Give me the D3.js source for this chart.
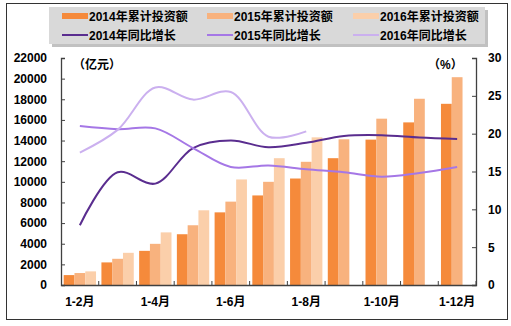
<!DOCTYPE html>
<html><head><meta charset="utf-8">
<script src="https://cdn.jsdelivr.net/npm/d3@7"></script>
<style>
body{margin:0;background:#fff;}
text{font-family:Arial,"Liberation Sans","Noto Sans CJK SC",sans-serif;font-weight:bold;fill:#000;}
</style></head><body>
<svg id="c" width="511" height="326"></svg>
<script>
const categories = ["1-2月","1-3月","1-4月","1-5月","1-6月","1-7月","1-8月","1-9月","1-10月","1-11月","1-12月"];
const tickLabels = ["1-2月","1-4月","1-6月","1-8月","1-10月","1-12月"];
const inv2014 = [960, 2190, 3310, 4920, 7040, 8680, 10320, 12290, 14090, 15760, 17560];
const inv2015 = [1160, 2540, 3990, 5790, 8080, 10000, 11940, 14120, 16120, 18050, 20140];
const inv2016 = [1320, 3120, 5100, 7240, 10230, 12290, 14310];
const g2014 = [7.9, 14.9, 13.4, 18.1, 19.1, 18.2, 18.8, 19.7, 19.8, 19.5, 19.3];
const g2015 = [21.0, 20.6, 20.7, 18.1, 15.6, 15.8, 15.3, 14.9, 14.3, 14.8, 15.6];
const g2016 = [17.5, 20.5, 26.1, 24.5, 25.5, 19.6, 20.3];
const leftTicks = d3.range(0, 22001, 2000);
const rightTicks = d3.range(0, 31, 5);
const barSeries = [
  {name:"2014年累计投资额", values:inv2014, color:"#f58a3b"},
  {name:"2015年累计投资额", values:inv2015, color:"#f8b27e"},
  {name:"2016年累计投资额", values:inv2016, color:"#fbcfaa"}
];
const lineSeries = [
  {name:"2014年同比增长", values:g2014, color:"#5a2d8f"},
  {name:"2015年同比增长", values:g2015, color:"#a577e6"},
  {name:"2016年同比增长", values:g2016, color:"#cbb0ef"}
];

const svg = d3.select("#c");
svg.append("rect").attr("x",6.5).attr("y",3.5).attr("width",501).attr("height",316)
  .attr("fill","none").attr("stroke","#333").attr("stroke-width",1);

const L=61, R=476, T=58, B=285;
const x = d3.scaleBand().domain(categories).range([L,R]).padding(0);
const xs = d3.scaleBand().domain([0,1,2]).range([0, x.bandwidth()]).paddingInner(0).paddingOuter(0.25);
const yL = d3.scaleLinear().domain([0,22000]).range([B,T]);
const yR = d3.scaleLinear().domain([0,30]).range([B,T]);

barSeries.forEach((s,i)=>{
  svg.append("g").selectAll("rect").data(s.values).join("rect")
    .attr("x",(d,j)=>x(categories[j])+xs(i))
    .attr("width",xs.bandwidth())
    .attr("y",d=>yL(d)).attr("height",d=>B-yL(d))
    .attr("fill",s.color);
});

lineSeries.forEach(s=>{
  const line = d3.line().x((d,j)=>x(categories[j])+x.bandwidth()/2).y(d=>yR(d)).curve(d3.curveCatmullRom.alpha(0.5));
  svg.append("path").datum(s.values).attr("d",line).attr("fill","none")
    .attr("stroke",s.color).attr("stroke-width",2);
});

const axColor="#404040";
const gl = svg.append("g").attr("transform",`translate(${L},0)`)
  .call(d3.axisLeft(yL).tickValues(leftTicks).tickSize(-4).tickPadding(14).tickFormat(d3.format("d")));
const gr = svg.append("g").attr("transform",`translate(${R},0)`)
  .call(d3.axisRight(yR).tickValues(rightTicks).tickSize(-4).tickPadding(14));
const gb = svg.append("g").attr("transform",`translate(0,${B})`)
  .call(d3.axisBottom(x).tickValues([]).tickSize(0));
[gl,gr,gb].forEach(g=>{
  g.select(".domain").attr("stroke",axColor).attr("stroke-width",1.3);
  g.selectAll("line").attr("stroke",axColor);
  g.selectAll("text").attr("font-size",12).attr("fill","#000")
    .style("font-family","Arial,'Liberation Sans',sans-serif").style("font-weight","bold");
});
gr.selectAll(".tick text").attr("x",12);
const bounds = categories.slice(1).map(c=>x(c)).concat([R]);
svg.append("g").selectAll("line").data(bounds).join("line")
  .attr("x1",d=>d).attr("x2",d=>d).attr("y1",B).attr("y2",B-4)
  .attr("stroke",axColor);
svg.append("g").selectAll("text").data(tickLabels).join("text")
  .attr("x",d=>x(d)+x.bandwidth()/2).attr("y",B+21)
  .attr("text-anchor","middle").attr("font-size",12).text(d=>d);

svg.append("text").attr("x",73).attr("y",69).attr("font-size",12).text("（亿元）");
svg.append("text").attr("x",428).attr("y",69).attr("font-size",12).text("（%）");

const lg = svg.append("g");
lg.append("rect").attr("x",52).attr("y",10).attr("width",436).attr("height",37).attr("fill","#a6a6a6").attr("opacity",0.7);
lg.append("rect").attr("x",49).attr("y",7).attr("width",436).attr("height",37).attr("fill","#d9d9d9");
const colX=[62,207,353];
barSeries.forEach((s,i)=>{
  lg.append("rect").attr("x",colX[i]).attr("y",13).attr("width",26).attr("height",6).attr("fill",s.color);
  lg.append("text").attr("x",colX[i]+27).attr("y",21).attr("font-size",12).text(s.name);
});
lineSeries.forEach((s,i)=>{
  lg.append("line").attr("x1",colX[i]).attr("x2",colX[i]+26).attr("y1",35).attr("y2",35)
    .attr("stroke",s.color).attr("stroke-width",2);
  lg.append("text").attr("x",colX[i]+27).attr("y",40).attr("font-size",12).text(s.name);
});
</script></body></html>
